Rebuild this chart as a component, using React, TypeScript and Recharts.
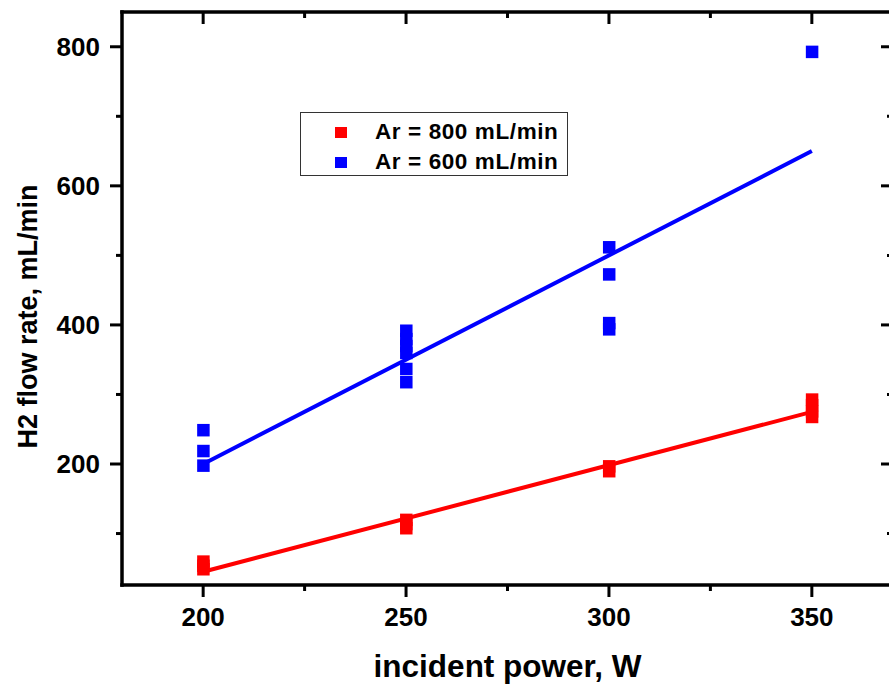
import { ComposedChart, XAxis, YAxis, Scatter, Legend } from 'recharts';

// measured points, grouped by Ar flow
const ar800Power = [200, 200, 200, 250, 250, 250, 300, 300, 350, 350, 350, 350];
const ar800Flow = [60, 54, 49, 120, 114, 108, 197, 190, 293, 285, 276, 268];
const ar600Power = [200, 200, 200, 250, 250, 250, 250, 250, 250, 300, 300, 300, 300, 350];
const ar600Flow = [249, 219, 198, 392, 380, 370, 360, 337, 318, 512, 473, 403, 394, 793];

// linear fits
const fitPower = [200, 350];
const ar800Fit = [45, 275];
const ar600Fit = [200, 650];

const xTicks = [200, 225, 250, 275, 300, 325, 350];
const yTicks = [100, 200, 300, 400, 500, 600, 700, 800];

const seriesNames = ['Ar = 800 mL/min', 'Ar = 600 mL/min'];
const RED = '#ff0000';
const BLUE = '#0000ff';
const FONT = '"Liberation Sans", Arial, sans-serif';

const pts = (xs: number[], ys: number[]) => xs.map((x, i) => ({ x, y: ys[i] }));

const ar800Data = pts(ar800Power, ar800Flow);
const ar600Data = pts(ar600Power, ar600Flow);
const ar800Line = pts(fitPower, ar800Fit);
const ar600Line = pts(fitPower, ar600Fit);

const frame = { stroke: '#000', strokeWidth: 3.5, strokeLinecap: 'square' as const };

function Square(color: string) {
  return (p: any) => <rect x={p.cx - 6} y={p.cy - 6} width={12.5} height={12.5} fill={color} />;
}

const noShape = () => <g />;

function LeftTick({ x, y, payload }: any) {
  const major = payload.value % 200 === 0;
  return (
    <g>
      <line x1={x - (major ? 12 : 6)} x2={x} y1={y} y2={y} stroke="#000" strokeWidth={3} />
      {major && (
        <text x={x - 22} y={y} dy="0.355em" textAnchor="end" fontFamily={FONT} fontWeight="bold" fontSize={26} fill="#000">
          {payload.value}
        </text>
      )}
    </g>
  );
}

function RightTick({ x, y, payload }: any) {
  const major = payload.value % 200 === 0;
  return <line x1={x} x2={x - (major ? 12 : 6)} y1={y} y2={y} stroke="#000" strokeWidth={3} />;
}

function BottomTick({ x, y, payload }: any) {
  const major = payload.value % 50 === 0;
  return (
    <g>
      <line x1={x} x2={x} y1={y} y2={y + (major ? 12 : 6)} stroke="#000" strokeWidth={3} />
      {major && (
        <text x={x} y={y + 41} textAnchor="middle" fontFamily={FONT} fontWeight="bold" fontSize={26} fill="#000">
          {payload.value}
        </text>
      )}
    </g>
  );
}

function TopTick({ x, y, payload }: any) {
  const major = payload.value % 50 === 0;
  return <line x1={x} x2={x} y1={y} y2={y + (major ? 12 : 6)} stroke="#000" strokeWidth={3} />;
}

function YTitle({ viewBox }: any) {
  const cx = viewBox.x + 37;
  const cy = viewBox.y + viewBox.height / 2 + 18;
  return (
    <text x={cx} y={cy} transform={`rotate(-90, ${cx}, ${cy})`} textAnchor="middle" fontFamily={FONT} fontWeight="bold" fontSize={27} fill="#000">
      H2 flow rate, mL/min
    </text>
  );
}

function XTitle({ viewBox }: any) {
  return (
    <text x={viewBox.x + viewBox.width / 2} y={viewBox.y + 92} textAnchor="middle" fontFamily={FONT} fontWeight="bold" fontSize={31.5} fill="#000">
      incident power, W
    </text>
  );
}

function LegendBox() {
  const colors = [RED, BLUE];
  return (
    <div style={{ width: 266, height: 62, border: '1px solid #333', background: '#fff', position: 'relative', fontFamily: FONT, fontWeight: 'bold', fontSize: 22.5, lineHeight: '22px', letterSpacing: 0.6, color: '#000' }}>
      {seriesNames.map((name, i) => (
        <div key={name}>
          <div style={{ position: 'absolute', left: 34, top: 14 + i * 30, width: 12, height: 11, background: colors[i] }} />
          <div style={{ position: 'absolute', left: 74, top: 8 + i * 30, whiteSpace: 'nowrap' }}>{name}</div>
        </div>
      ))}
    </div>
  );
}

export default function App() {
  return (
    <div style={{ position: 'absolute', left: 0, top: 0, width: 889, height: 688, overflow: 'hidden', background: '#fff' }}>
      <ComposedChart width={903} height={688} margin={{ top: 0, right: 0, bottom: 0, left: 0 }}>
        <XAxis
          dataKey="x"
          type="number"
          domain={[180, 370]}
          allowDataOverflow
          ticks={xTicks}
          height={103}
          axisLine={frame}
          tickLine={false}
          tickSize={0}
          tickMargin={0}
          tick={<BottomTick />}
          label={<XTitle />}
        />
        <XAxis
          xAxisId="t"
          orientation="top"
          dataKey="x"
          type="number"
          domain={[180, 370]}
          allowDataOverflow
          ticks={xTicks}
          height={12}
          axisLine={frame}
          tickLine={false}
          tickSize={0}
          tickMargin={0}
          tick={<TopTick />}
        />
        <YAxis
          dataKey="y"
          type="number"
          domain={[26, 850]}
          allowDataOverflow
          ticks={yTicks}
          width={122}
          axisLine={frame}
          tickLine={false}
          tickSize={0}
          tickMargin={0}
          tick={<LeftTick />}
          label={<YTitle />}
        />
        <YAxis
          yAxisId="r"
          orientation="right"
          dataKey="y"
          type="number"
          domain={[26, 850]}
          allowDataOverflow
          ticks={yTicks}
          width={10}
          axisLine={frame}
          tickLine={false}
          tickSize={0}
          tickMargin={0}
          tick={<RightTick />}
        />
        <Legend
          layout="vertical"
          align="center"
          verticalAlign="middle"
          wrapperStyle={{ left: 300, top: 112, width: 268 }}
          content={<LegendBox />}
        />
        <Scatter name={seriesNames[0]} data={ar800Data} fill={RED} shape={Square(RED)} isAnimationActive={false} />
        <Scatter name={seriesNames[1]} data={ar600Data} fill={BLUE} shape={Square(BLUE)} isAnimationActive={false} />
        <Scatter data={ar800Line} line={{ stroke: RED, strokeWidth: 4 }} shape={noShape} isAnimationActive={false} legendType="none" />
        <Scatter data={ar600Line} line={{ stroke: BLUE, strokeWidth: 4 }} shape={noShape} isAnimationActive={false} legendType="none" />
      </ComposedChart>
    </div>
  );
}
